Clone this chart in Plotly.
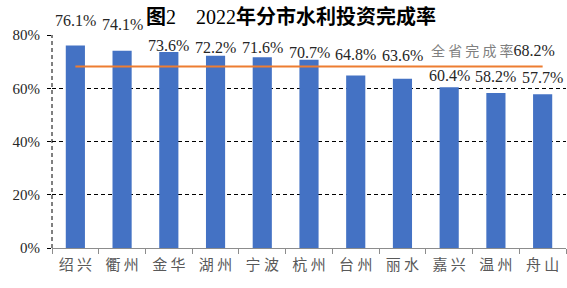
import plotly.graph_objects as go

cities = ["绍兴", "衢州", "金华", "湖州", "宁波", "杭州", "台州", "丽水", "嘉兴", "温州", "舟山"]
rates = [76.1, 74.1, 73.6, 72.2, 71.6, 70.7, 64.8, 63.6, 60.4, 58.2, 57.7]
province_rate = 68.2
y_ticks = [0, 20, 40, 60, 80]

# label placement offsets (pixels above bar top), styling only
label_shift = [25, 26, 7, 8, 10, 7, 21, 23, 12, 17, 17]

SERIF = "Times New Roman, Liberation Serif, Tinos, serif"
tick_text = [" ".join(list(c)) for c in cities]

fig = go.Figure()
fig.add_trace(go.Bar(
    x=cities, y=rates, marker=dict(color="#4472C4", line=dict(width=0)),
    hoverinfo="skip", showlegend=False,
))
fig.add_trace(go.Scatter(
    x=cities, y=[province_rate] * len(cities), mode="lines",
    line=dict(color="#ED7D31", width=2), showlegend=False, hoverinfo="skip",
))

for c, v, s in zip(cities, rates, label_shift):
    fig.add_annotation(
        x=c, y=v, text=f"{v:.1f}%", showarrow=False, yanchor="middle",
        yshift=s, font=dict(family=SERIF, size=16, color="#262626"),
    )

fig.add_annotation(
    x=0.982, xref="paper", y=province_rate, yref="y", yshift=16,
    xanchor="right", yanchor="middle", showarrow=False,
    text=(f"<span style='color:#7f7f7f;font-family:Noto Sans CJK SC;font-size:14px'>"
          f"全 省 完 成 率</span>{province_rate:.1f}%"),
    font=dict(family=SERIF, size=16, color="#262626"),
)

# dashed vertical axis line
fig.add_shape(type="line", xref="paper", yref="y", x0=0, x1=0, y0=0, y1=80,
              line=dict(color="black", width=1, dash="4px,3px"), layer="above")

fig.update_layout(
    width=567, height=288,
    margin=dict(l=52, r=1, t=35, b=40),
    paper_bgcolor="white", plot_bgcolor="white",
    bargap=0.59,
    title=dict(
        text=("<b><span style='font-family:Noto Sans CJK SC'>图</span></b>2　2022"
              "<b><span style='font-family:Noto Sans CJK SC'>年分市水利投资完成率</span></b>"),
        x=291 / 567, xanchor="center", y=1 - 17 / 288, yanchor="middle",
        xref="container", yref="container",
        font=dict(family=SERIF, size=20, color="#000000"),
    ),
    xaxis=dict(
        type="category", tickvals=cities, ticktext=tick_text,
        tickson="boundaries", ticks="outside", ticklen=5, tickcolor="#8c8c8c",
        ticklabelstandoff=3,
        showline=True, linecolor="#8c8c8c", linewidth=1,
        showgrid=False, zeroline=False,
        tickfont=dict(family="Noto Sans CJK SC", size=15, color="#595959"),
        fixedrange=True,
    ),
    yaxis=dict(
        range=[0, 80], tickvals=y_ticks, ticktext=[f"{t}%" for t in y_ticks],
        showgrid=True, gridcolor="black", griddash="4px,3px", gridwidth=1,
        zeroline=False, showline=False,
        ticks="outside", ticklen=4, tickcolor="black",
        ticklabelstandoff=4,
        tickfont=dict(family=SERIF, size=15, color="#262626"),
        fixedrange=True,
    ),
)

fig.write_html("out.html")
